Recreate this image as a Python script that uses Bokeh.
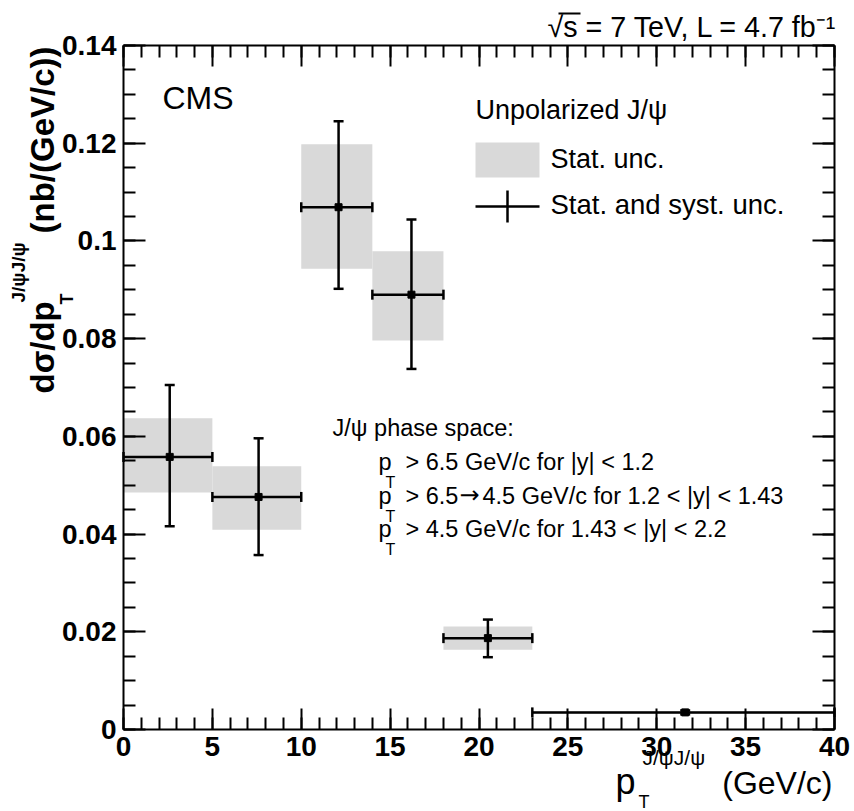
import math
from bokeh.plotting import figure
from bokeh.models import (ColumnDataSource, Whisker, TeeHead, LinearAxis, FixedTicker,
                          Label, Arrow, BoxAnnotation, Range1d)
from bokeh.embed import file_html
from bokeh.resources import INLINE

# ---------------- data ----------------
bin_lo = [0, 5, 10, 14, 18, 23]
bin_hi = [5, 10, 14, 18, 23, 40]
pt_mean = [2.6, 7.6, 12.1, 16.2, 20.5, 31.6]
xsec = [0.0558, 0.0476, 0.1069, 0.0890, 0.0187, 0.0035]
stat_lo = [0.0485, 0.0409, 0.0943, 0.0796, 0.0163, 0.0032]
stat_hi = [0.0637, 0.0539, 0.1198, 0.0979, 0.0211, 0.0038]
tot_lo = [0.0416, 0.0357, 0.0902, 0.0738, 0.0148, 0.0031]
tot_hi = [0.0705, 0.0596, 0.1245, 0.1044, 0.0225, 0.0039]

x_ticks = [0, 5, 10, 15, 20, 25, 30, 35, 40]
x_tick_labels = ["0", "5", "10", "15", "20", "25", "30", "35", "40"]
y_ticks = [0, 0.02, 0.04, 0.06, 0.08, 0.1, 0.12, 0.14]
y_tick_labels = ["0", "0.02", "0.04", "0.06", "0.08", "0.1", "0.12", "0.14"]

# ---------------- layout (pixel geometry of the axes box) ----------------
W, H = 854, 811
L, R, T, B = 123, 20, 45, 82
X0, X1 = 0, 40
Y0, Y1 = 0, 0.14
FW, FH = W - L - R, H - T - B
FONT = "Liberation Sans"


def X(px):
    return X0 + (px - L) / FW * (X1 - X0)


def Y(py):
    return Y0 + (H - B - py) / FH * (Y1 - Y0)


# the drawing area spans the whole canvas so that titles outside the axes box are visible
p = figure(width=W, height=H, x_range=Range1d(X(0), X(W)), y_range=Range1d(Y(H), Y(0)),
           output_backend="svg", toolbar_location=None,
           x_axis_location=None, y_axis_location=None, min_border=0)
p.outline_line_color = None
p.grid.grid_line_color = None
p.background_fill_color = "white"
p.border_fill_color = "white"

x_minor = [i for i in range(0, 41)]
y_minor = [round(i * 0.005, 3) for i in range(0, 29)]


def make_axis(ticks, minor, labels, show, major_len, minor_len, loc, bounds):
    ax = LinearAxis(ticker=FixedTicker(ticks=ticks, minor_ticks=minor),
                    fixed_location=loc, bounds=bounds)
    ax.axis_line_width = 2
    ax.axis_line_color = "black"
    ax.major_tick_in = major_len
    ax.major_tick_out = 0
    ax.minor_tick_in = minor_len
    ax.minor_tick_out = 0
    ax.major_tick_line_width = 2
    ax.minor_tick_line_width = 2
    ax.major_tick_line_color = "black"
    ax.minor_tick_line_color = "black"
    ax.major_label_overrides = {t: s for t, s in zip(ticks, labels)}
    ax.major_label_text_font = FONT
    ax.major_label_text_font_size = "28px"
    ax.major_label_text_font_style = "bold"
    ax.major_label_text_color = "black" if show else None
    ax.major_label_standoff = 7
    return ax


p.add_layout(make_axis(x_ticks, x_minor, x_tick_labels, True, 21, 12, Y0, (X0, X1)), "below")
p.add_layout(make_axis(x_ticks, x_minor, x_tick_labels, False, 21, 12, Y1, (X0, X1)), "above")
p.add_layout(make_axis(y_ticks, y_minor, y_tick_labels, True, 22, 12, X0, (Y0, Y1)), "left")
p.add_layout(make_axis(y_ticks, y_minor, y_tick_labels, False, 22, 12, X1, (Y0, Y1)), "right")

# ---------------- data marks ----------------
src = ColumnDataSource(dict(lo=bin_lo, hi=bin_hi, x=pt_mean, y=xsec,
                            slo=stat_lo, shi=stat_hi, tlo=tot_lo, thi=tot_hi))
GRAY = "#d9d9d9"
p.quad(left="lo", right="hi", bottom="slo", top="shi", source=src,
       fill_color=GRAY, line_color=None)


def tee():
    return TeeHead(size=10, line_width=2.5, line_color="black")


wv = Whisker(source=src, base="x", lower="tlo", upper="thi", dimension="height",
             line_width=2.5, line_color="black", upper_head=tee(), lower_head=tee())
wh = Whisker(source=src, base="y", lower="lo", upper="hi", dimension="width",
             line_width=2.5, line_color="black", upper_head=tee(), lower_head=tee())
wv.level = "annotation"
wh.level = "annotation"
p.add_layout(wv)
p.add_layout(wh)
p.scatter("x", "y", source=src, marker="square", size=7, color="black")

# ---------------- texts ----------------
SHIFT = 0.38  # empirical correction (in em) between wanted and drawn baseline


def lab(text, px, py, size, bold=False, align="left", angle=0.0, font=FONT):
    if angle == 0.0:
        py = py - SHIFT * size
    else:
        px = px - 0.45 * size
    p.add_layout(Label(x=X(px), y=Y(py), text=text, text_font=font,
                       text_font_size=f"{size}px",
                       text_font_style="bold" if bold else "normal",
                       text_align=align, text_baseline="alphabetic", angle=angle,
                       text_color="black"))


def line(px0, py0, px1, py1, width=2.5):
    p.add_layout(Arrow(x_start=X(px0), y_start=Y(py0), x_end=X(px1), y_end=Y(py1),
                       start=None, end=None, line_width=width, line_color="black"))


lab("CMS", 162, 110, 32)
lab("√s = 7 TeV, L = 4.7 fb⁻¹", 547, 37, 28.7)
line(558, 13, 580, 13, width=2)

# legend
lab("Unpolarized J/ψ", 475, 120, 27)
p.add_layout(BoxAnnotation(left=X(475), right=X(539), top=Y(142), bottom=Y(177),
                           fill_color=GRAY, fill_alpha=1.0, line_color=None))
lab("Stat. unc.", 550, 169, 27)
line(475, 206, 539, 206)
line(507, 190, 507, 222)
lab("Stat. and syst. unc.", 550, 214, 27.5)

# phase space
PS = 23.5
lab("J/ψ phase space:", 332, 436, PS)
for by in [470, 504, 537]:
    lab("p", 378, by, PS)
    lab("T", 385, by + 18, 16)
lab("> 6.5 GeV/c for |y| < 1.2", 405, 470, PS)
lab("> 6.5", 405, 504, PS)
lab("→", 459, 504, 24, font="DejaVu Sans")
lab("4.5 GeV/c for 1.2 < |y| < 1.43", 482, 504, PS)
lab("> 4.5 GeV/c for 1.43 < |y| < 2.2", 405, 537, PS)

# x title
lab("(GeV/c)", 832, 795, 32, align="right")
lab("p", 615, 795, 36)
lab("T", 638, 808, 18)
lab("J/ψJ/ψ", 642, 765, 21)

# y title (rotated)
ang = math.pi / 2
lab("dσ/dp", 57, 393, 33, bold=True, angle=ang)
lab("T", 75, 304, 18, bold=True, angle=ang)
lab("J/ψJ/ψ", 27, 302, 19, bold=True, angle=ang)
lab("(nb/(GeV/c))", 57, 233, 33, bold=True, angle=ang)

open("out.html", "w").write(file_html(p, INLINE))
